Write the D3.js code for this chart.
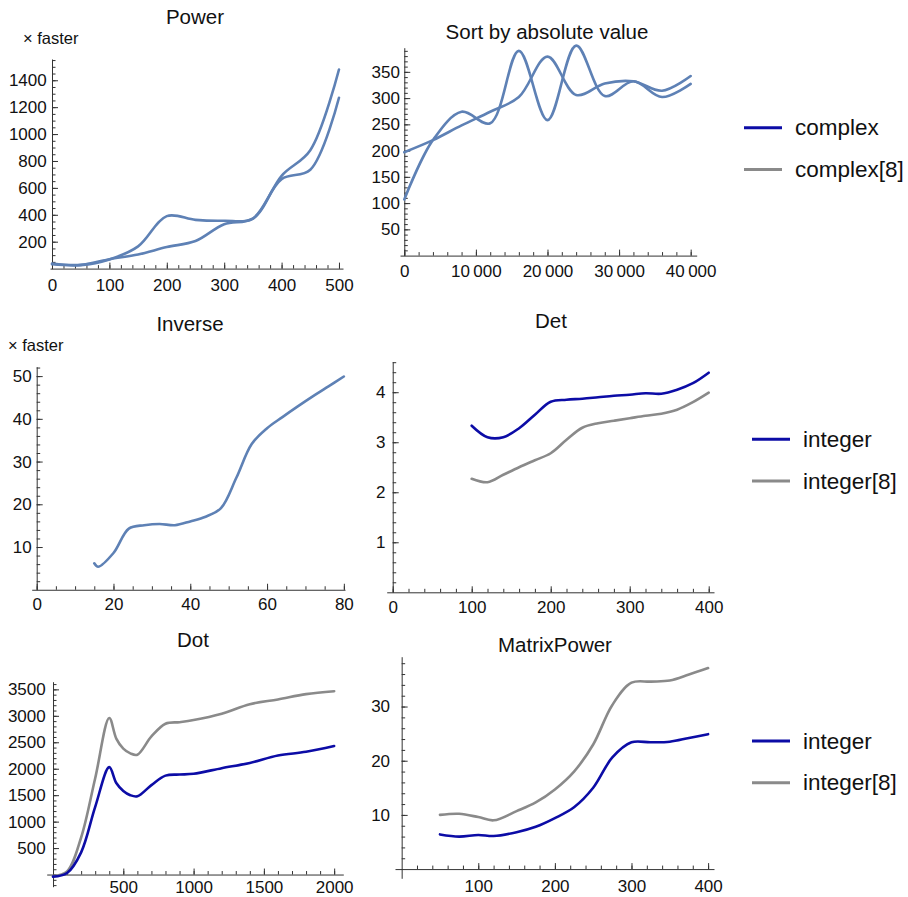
<!DOCTYPE html>
<html>
<head>
<meta charset="utf-8">
<script src="https://cdn.jsdelivr.net/npm/d3@7"></script>
<style>
  html, body { margin: 0; padding: 0; background: #fff; }
  svg { display: block; font-family: "Liberation Sans", Arial, sans-serif; }
</style>
</head>
<body>
<svg id="chart" width="908" height="897"></svg>
<script>
// ---------------- data ----------------
const powerX = [0, 50, 100, 150, 200, 250, 300, 350, 400, 450, 500];
const powerSeriesA = [32, 26, 68, 165, 390, 362, 356, 372, 690, 880, 1480];
const powerSeriesB = [38, 28, 70, 105, 160, 205, 330, 372, 665, 735, 1270];

const sortX = [0, 4000, 8000, 12000, 16000, 20000, 24000, 28000, 32000, 36000, 40000];
const sortSeriesA = [107, 220, 274, 252, 390, 258, 400, 304, 332, 302, 327];
const sortSeriesB = [197, 220, 248, 274, 302, 379, 306, 328, 332, 314, 342];

const inverseX = [15, 16, 20, 24, 28, 32, 36, 40, 44, 48, 52, 56, 60, 64, 68, 72, 76, 80];
const inverseY = [6.2, 5.4, 8.6, 14.3, 15.1, 15.4, 15.1, 16.0, 17.1, 19.1, 26.2, 34.1, 37.8, 40.4, 42.9, 45.3, 47.6, 49.9];

const detX = [100, 120, 140, 160, 180, 200, 220, 240, 260, 280, 300, 320, 340, 360, 380, 400];
const detInteger  = [3.33, 3.10, 3.10, 3.28, 3.55, 3.81, 3.85, 3.87, 3.90, 3.93, 3.95, 3.98, 3.97, 4.05, 4.18, 4.39];
const detInteger8 = [2.27, 2.20, 2.35, 2.50, 2.64, 2.78, 3.05, 3.29, 3.38, 3.43, 3.48, 3.53, 3.57, 3.65, 3.80, 3.99];

const dotX = [0, 100, 200, 300, 400, 450, 500, 550, 600, 700, 800, 900, 1000, 1200, 1400, 1600, 1800, 2000];
const dotInteger  = [-40, 30, 420, 1280, 2030, 1730, 1580, 1500, 1480, 1690, 1870, 1890, 1905, 2010, 2110, 2250, 2320, 2430];
const dotInteger8 = [-30, 60, 700, 1820, 2960, 2570, 2380, 2290, 2265, 2610, 2850, 2880, 2920, 3040, 3220, 3310, 3410, 3465];

const mpX = [50, 75, 100, 120, 150, 175, 200, 225, 250, 275, 300, 325, 350, 375, 400];
const mpInteger  = [6.4, 6.0, 6.3, 6.1, 6.8, 7.8, 9.4, 11.4, 15.0, 20.6, 23.4, 23.4, 23.5, 24.2, 24.9];
const mpInteger8 = [10.0, 10.2, 9.6, 9.0, 10.7, 12.3, 14.7, 18.0, 23.0, 30.3, 34.4, 34.6, 34.8, 35.9, 37.1];

const complexNames = ["complex", "complex[8]"];
const integerNames = ["integer", "integer[8]"];

// major tick values (labelled) per axis
const powerXTicks = [0, 100, 200, 300, 400, 500];
const powerYTicks = [200, 400, 600, 800, 1000, 1200, 1400];
const sortXTicks = [0, 10000, 20000, 30000, 40000];
const sortYTicks = [50, 100, 150, 200, 250, 300, 350];
const inverseXTicks = [0, 20, 40, 60, 80];
const inverseYTicks = [10, 20, 30, 40, 50];
const detXTicks = [0, 100, 200, 300, 400];
const detYTicks = [1, 2, 3, 4];
const dotXTicks = [500, 1000, 1500, 2000];
const dotYTicks = [500, 1000, 1500, 2000, 2500, 3000, 3500];
const mpXTicks = [100, 200, 300, 400];
const mpYTicks = [10, 20, 30];

// ---------------- styling ----------------
const COL_DEFAULT = "#5e81b5";
const COL_BLUE = "#0c0ca6";
const COL_GRAY = "#8a8a8a";
const AXIS_COL = "#333";
const TEXT_COL = "#111";
const TICK_FONT = "17px";

const svg = d3.select("#chart");

const zip = (xs, ys) => xs.map((v, i) => [v, ys[i]]);
const steps = (a, b, s) => d3.range(Math.round((b - a) / s) + 1).map(i => +(a + i * s).toFixed(6));
const fmt = v => {
  if (Math.abs(v) >= 10000) return d3.format(",")(v).replace(/,/g, "\u2009");
  return String(v);
};

const panels = [
  {
    title: "Power", titleAt: [195, 24], note: "× faster", noteAt: [23, 44],
    xDom: [-3.5, 507], xRange: [50, 343], yDom: [0, 1558], yRange: [268.6, 59],
    xMajor: powerXTicks, xMinor: steps(0, 500, 20),
    yMajor: powerYTicks, yMinor: steps(50, 1550, 50),
    xPad: 10.6, yPad: 5.3,
    series: [
      { x: powerX, y: powerSeriesA, color: COL_DEFAULT },
      { x: powerX, y: powerSeriesB, color: COL_DEFAULT }
    ]
  },
  {
    title: "Sort by absolute value", titleAt: [547, 39],
    xDom: [-600, 40840], xRange: [400, 696.7], yDom: [0, 396], yRange: [255.6, 47.7],
    xMajor: sortXTicks, xMinor: steps(0, 40000, 2000),
    yMajor: sortYTicks, yMinor: steps(10, 390, 10),
    xPad: 9, yPad: 4.3,
    series: [
      { x: sortX, y: sortSeriesA, color: COL_DEFAULT },
      { x: sortX, y: sortSeriesB, color: COL_DEFAULT }
    ]
  },
  {
    title: "Inverse", titleAt: [190, 331], note: "× faster", noteAt: [8, 351],
    xDom: [-1.3, 80.3], xRange: [31.7, 345], yDom: [0, 52.2], yRange: [589.75, 366.7],
    xMajor: inverseXTicks, xMinor: steps(0, 80, 5),
    yMajor: inverseYTicks, yMinor: steps(2, 52, 2),
    xPad: 8.6, yPad: 5,
    series: [
      { x: inverseX, y: inverseY, color: COL_DEFAULT }
    ]
  },
  {
    title: "Det", titleAt: [551, 328],
    xDom: [-7.6, 406.7], xRange: [386.7, 714], yDom: [0, 4.61], yRange: [592.3, 361.7],
    xMajor: detXTicks, xMinor: steps(0, 400, 20),
    yMajor: detYTicks, yMinor: steps(0.2, 4.6, 0.2),
    xPad: 8.8, yPad: 7.3,
    series: [
      { x: detX, y: detInteger, color: COL_BLUE },
      { x: detX, y: detInteger8, color: COL_GRAY }
    ],
    legend: { names: integerNames, at: [752, 439.3] }
  },
  {
    title: "Dot", titleAt: [193, 647],
    xDom: [-45, 2065], xRange: [46.7, 343.3], yDom: [-230, 3645], yRange: [886.7, 681.7],
    xMajor: dotXTicks, xMinor: steps(100, 2000, 100),
    yMajor: dotYTicks, yMinor: steps(-200, 3600, 100),
    xPad: 6.2, yPad: 7.3,
    series: [
      { x: dotX, y: dotInteger8, color: COL_GRAY },
      { x: dotX, y: dotInteger, color: COL_BLUE }
    ]
  },
  {
    title: "MatrixPower", titleAt: [555, 652],
    xDom: [-8.7, 407.7], xRange: [395, 714], yDom: [-1.7, 39.2], yRange: [878.3, 656.7],
    xMajor: mpXTicks, xMinor: steps(20, 400, 20),
    yMajor: mpYTicks, yMinor: steps(2, 38, 2),
    xPad: 10.5, yPad: 11.6,
    series: [
      { x: mpX, y: mpInteger, color: COL_BLUE },
      { x: mpX, y: mpInteger8, color: COL_GRAY }
    ],
    legend: { names: integerNames, at: [752, 741] }
  }
];

function styleAxis(sel) {
  sel.attr("font-family", null).attr("font-size", null).attr("color", AXIS_COL);
  sel.select(".domain").attr("stroke-width", 1);
  sel.selectAll(".tick line").attr("stroke-width", 1);
  sel.selectAll(".tick text").attr("fill", TEXT_COL).style("font-size", TICK_FONT);
}

function drawPanel(p) {
  const g = svg.append("g");
  const x = d3.scaleLinear().domain(p.xDom).range(p.xRange);
  const y = d3.scaleLinear().domain(p.yDom).range(p.yRange);
  const yCross = y(0), xCross = x(0);

  // minor ticks
  g.append("g").attr("transform", `translate(0,${yCross})`)
    .call(d3.axisBottom(x).tickValues(p.xMinor).tickSizeInner(-3.5).tickSizeOuter(0).tickFormat(""))
    .call(styleAxis).call(a => a.select(".domain").remove());
  g.append("g").attr("transform", `translate(${xCross},0)`)
    .call(d3.axisLeft(y).tickValues(p.yMinor).tickSizeInner(-3.5).tickSizeOuter(0).tickFormat(""))
    .call(styleAxis).call(a => a.select(".domain").remove());

  // major ticks with labels, plus the axis lines
  g.append("g").attr("transform", `translate(0,${yCross})`)
    .call(d3.axisBottom(x).tickValues(p.xMajor).tickSizeInner(-6).tickSizeOuter(0)
      .tickPadding(p.xPad).tickFormat(fmt))
    .call(styleAxis);
  g.append("g").attr("transform", `translate(${xCross},0)`)
    .call(d3.axisLeft(y).tickValues(p.yMajor).tickSizeInner(-6).tickSizeOuter(0)
      .tickPadding(p.yPad).tickFormat(fmt))
    .call(styleAxis);

  // data lines
  const line = d3.line()
    .x(d => x(d[0])).y(d => y(d[1]))
    .curve(d3.curveCatmullRom.alpha(0.5));
  p.series.forEach(s => {
    g.append("path")
      .datum(zip(s.x, s.y))
      .attr("fill", "none")
      .attr("stroke", s.color)
      .attr("stroke-width", 2.6)
      .attr("stroke-linejoin", "round")
      .attr("stroke-linecap", "round")
      .attr("d", line);
  });

  // title and unit note
  g.append("text")
    .attr("x", p.titleAt[0]).attr("y", p.titleAt[1])
    .attr("text-anchor", "middle").attr("fill", TEXT_COL)
    .style("font-size", "20.5px").text(p.title);
  if (p.note) {
    g.append("text")
      .attr("x", p.noteAt[0]).attr("y", p.noteAt[1])
      .attr("fill", TEXT_COL).style("font-size", "16.5px").text(p.note);
  }
  if (p.legend) drawLegend(p.legend.names, p.legend.at);
}

function drawLegend(names, at) {
  const colors = [COL_BLUE, COL_GRAY];
  const lg = svg.append("g").attr("transform", `translate(${at[0]},${at[1]})`);
  names.forEach((n, i) => {
    const row = lg.append("g").attr("transform", `translate(0,${i * 41.7})`);
    row.append("line").attr("x1", 0).attr("x2", 38).attr("y1", 0).attr("y2", 0)
      .attr("stroke", colors[i]).attr("stroke-width", 3);
    row.append("text").attr("x", 51).attr("y", 7.5).attr("fill", TEXT_COL)
      .style("font-size", "22.5px").text(n);
  });
}

panels.forEach(drawPanel);
drawLegend(complexNames, [744, 127.7]);
</script>
</body>
</html>
